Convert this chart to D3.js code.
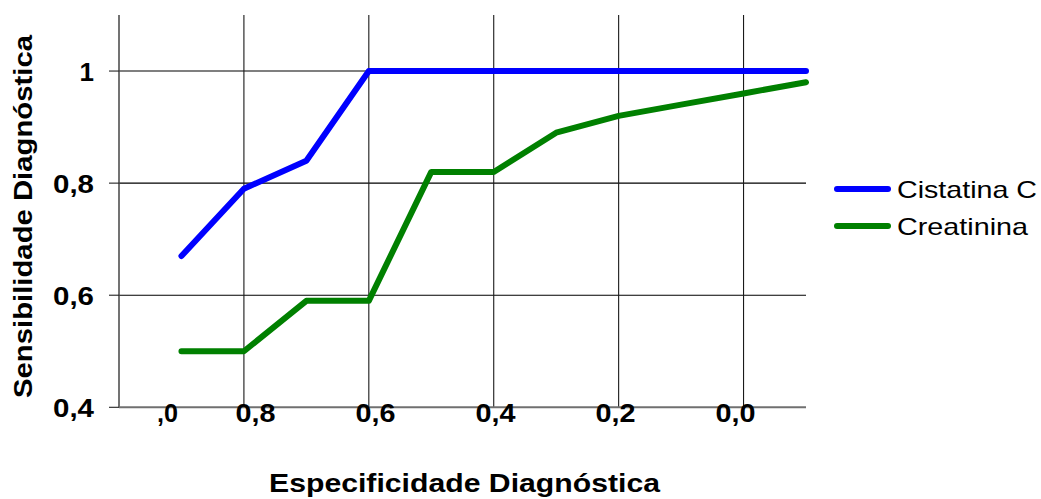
<!DOCTYPE html>
<html>
<head>
<meta charset="utf-8">
<script src="https://cdn.jsdelivr.net/npm/d3@7"></script>
<style>
  html, body { margin: 0; padding: 0; background: #fff; }
  svg { display: block; font-family: Arial, "Liberation Sans", sans-serif; }
</style>
</head>
<body>
<svg id="chart" width="1041" height="499"></svg>
<script>
// ROC-style curves: sensitivity per cut-off step
const steps = [1, 2, 3, 4, 5, 6, 7, 8, 9, 10, 11];
const cistatinaC = [0.67, 0.79, 0.84, 1.0, 1.0, 1.0, 1.0, 1.0, 1.0, 1.0, 1.0];
const creatinina = [0.50, 0.50, 0.59, 0.59, 0.82, 0.82, 0.89, 0.92, 0.94, 0.96, 0.98];
const seriesNames = ["Cistatina C", "Creatinina"];
const seriesColors = ["#0000ff", "#008000"];
const yTicks = [0.4, 0.6, 0.8, 1.0];
const yTickLabels = ["0,4", "0,6", "0,8", "1"];
const xGridSteps = [2, 4, 6, 8, 10];
const xTickLabels = [",0", "0,8", "0,6", "0,4", "0,2", "0,0"];

const svg = d3.select("#chart");
const plotLeft = 119, plotRight = 806, plotTop = 15, plotBottom = 407.3;

const x = d3.scaleLinear().domain([0, 11]).range([plotLeft, plotRight]);
const y = d3.scaleLinear().domain([0.4, 1.1]).range([plotBottom, plotTop]);

// horizontal gridlines
svg.append("g").selectAll("line")
  .data(yTicks.filter(v => v > 0.4))
  .join("line")
  .attr("x1", plotLeft).attr("x2", plotRight)
  .attr("y1", d => y(d)).attr("y2", d => y(d))
  .attr("stroke", "#000").attr("stroke-width", 1.1);

// vertical gridlines
svg.append("g").selectAll("line")
  .data(xGridSteps)
  .join("line")
  .attr("x1", d => x(d)).attr("x2", d => x(d))
  .attr("y1", plotTop).attr("y2", plotBottom)
  .attr("stroke", "#1a1a1a").attr("stroke-width", 1.1);

// axes
svg.append("line")
  .attr("x1", plotLeft).attr("x2", plotLeft).attr("y1", plotTop).attr("y2", plotBottom)
  .attr("stroke", "#444").attr("stroke-width", 1.5);
svg.append("line")
  .attr("x1", plotLeft).attr("x2", plotRight).attr("y1", plotBottom).attr("y2", plotBottom)
  .attr("stroke", "#707070").attr("stroke-width", 2);

// y ticks and labels
const yAxis = svg.append("g");
yAxis.selectAll("line")
  .data(yTicks)
  .join("line")
  .attr("x1", plotLeft - 10).attr("x2", plotLeft)
  .attr("y1", d => y(d)).attr("y2", d => y(d))
  .attr("stroke", "#222").attr("stroke-width", 1.1);
yAxis.selectAll("text")
  .data(yTicks)
  .join("text")
  .attr("x", 94)
  .attr("y", d => y(d) + 9.5)
  .attr("text-anchor", "end")
  .attr("font-size", 26)
  .attr("font-weight", "bold")
  .attr("textLength", (d, i) => yTickLabels[i].length > 1 ? 41 : null)
  .attr("lengthAdjust", "spacingAndGlyphs")
  .text((d, i) => yTickLabels[i]);

// x tick labels (spaced slightly tighter than the gridlines)
const labelX = d3.scaleLinear().domain([1, 5]).range([x(2) + 11.5, x(10) - 8]);
svg.append("g").selectAll("text")
  .data(xTickLabels)
  .join("text")
  .attr("x", (d, i) => i === 0 ? 178 : labelX(i))
  .attr("y", 422)
  .attr("text-anchor", (d, i) => i === 0 ? "end" : "middle")
  .attr("font-size", 26)
  .attr("font-weight", "bold")
  .attr("textLength", (d, i) => i === 0 ? 21 : 40)
  .attr("lengthAdjust", "spacingAndGlyphs")
  .text(d => d);

// curves
const line = d3.line()
  .x((d, i) => x(steps[i]))
  .y(d => y(d));

[cistatinaC, creatinina].forEach((vals, k) => {
  svg.append("path")
    .datum(vals)
    .attr("d", line)
    .attr("fill", "none")
    .attr("stroke", seriesColors[k])
    .attr("stroke-width", 6)
    .attr("stroke-linejoin", "round")
    .attr("stroke-linecap", "round");
});

// axis titles
svg.append("text")
  .attr("x", 269).attr("y", 492)
  .attr("font-size", 26).attr("font-weight", "bold")
  .attr("textLength", 391).attr("lengthAdjust", "spacingAndGlyphs")
  .text("Especificidade Diagnóstica");

svg.append("text")
  .attr("transform", "translate(32,398) rotate(-90)")
  .attr("font-size", 26).attr("font-weight", "bold")
  .attr("textLength", 363).attr("lengthAdjust", "spacingAndGlyphs")
  .text("Sensibilidade Diagnóstica");

// legend
const legend = svg.append("g").selectAll("g")
  .data(seriesNames)
  .join("g")
  .attr("transform", (d, i) => `translate(837,${189 + i * 37})`);
legend.append("line")
  .attr("x1", 0).attr("x2", 51)
  .attr("stroke", (d, i) => seriesColors[i])
  .attr("stroke-width", 6)
  .attr("stroke-linecap", "round");
legend.append("text")
  .attr("x", 60).attr("y", 9)
  .attr("font-size", 24)
  .attr("textLength", (d, i) => i === 0 ? 140 : 131)
  .attr("lengthAdjust", "spacingAndGlyphs")
  .text(d => d);
</script>
</body>
</html>
